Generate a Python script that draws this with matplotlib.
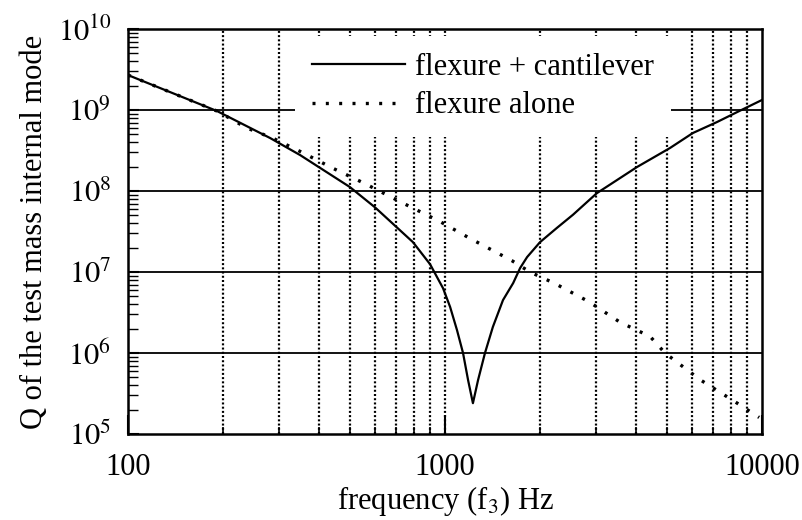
import numpy as np
import matplotlib
matplotlib.use("Agg")
import matplotlib.pyplot as plt
from matplotlib.ticker import LogLocator, FixedLocator, NullFormatter

# values (frequency in Hz, Q)
f_combined = [100, 191, 281, 349, 501, 601, 792, 897, 986, 1038, 1091, 1140,
              1183, 1225, 1271, 1337, 1416, 1524, 1641, 1726, 1816, 1995,
              2254, 2535, 3013, 4036, 5129, 6053, 7211, 8337, 10000]
q_combined = [2.7e9, 9.7e8, 4.5e8, 2.78e8, 1.12e8, 6.3e7, 2.34e7, 1.25e7,
              6.3e6, 3.7e6, 1.92e6, 1.0e6, 4.6e5, 2.4e5, 4.6e5, 1.0e6, 2.1e6,
              4.5e6, 7.3e6, 1.12e7, 1.53e7, 2.34e7, 3.5e7, 5.1e7, 9.4e7,
              1.98e8, 3.4e8, 5.2e8, 7.1e8, 9.4e8, 1.33e9]

f_flexure = [100, 191, 237, 286, 354, 444, 560, 711, 964, 1199, 1626, 1854,
             2223, 2844, 3565, 4436, 4943, 6368, 8222, 9795]
q_flexure = [2.7e9, 9.7e8, 6.0e8, 4.5e8, 3.0e8, 1.9e8, 1.23e8, 7.6e7, 4.2e7,
             2.6e7, 1.38e7, 1.0e7, 7.2e6, 4.3e6, 2.4e6, 1.6e6, 1.0e6, 4.7e5,
             2.5e5, 1.6e5]

labels = ["flexure + cantilever", "flexure alone"]
x_ticks = [100, 1000, 10000]
y_ticks = [1e5, 1e6, 1e7, 1e8, 1e9, 1e10]

plt.rcParams['font.family'] = ['Liberation Serif', 'DejaVu Serif']
plt.rcParams['mathtext.fontset'] = 'stix'

fig = plt.figure(figsize=(8.02, 5.2), dpi=100)
ax = fig.add_axes([0.1596, 0.1654, 0.7905, 0.7788])

ax.set_xscale('log')
ax.set_yscale('log')
ax.set_xlim(100, 10000)
ax.set_ylim(1e5, 1e10)

# grid: dotted verticals at the minor decades, solid horizontals at decades
vgrid = [m * d for d in (100, 1000) for m in range(2, 10)] + [1000]
for xv in vgrid:
    ax.axvline(xv, color='black', lw=1.6, ls=(0, (0.9, 1.0)), zorder=1)
for yv in y_ticks[1:-1]:
    ax.axhline(yv, color='black', lw=1.3, zorder=1)

ax.plot(f_combined, q_combined, color='black', lw=1.6, label=labels[0], zorder=3)
ax.plot(f_flexure, q_flexure, color='black', lw=2.4, ls=(0, (0.9, 3.1)),
        label=labels[1], zorder=2)

ax.xaxis.set_major_locator(FixedLocator(x_ticks))
ax.set_xticklabels([str(v) for v in x_ticks])
ax.xaxis.set_minor_locator(LogLocator(base=10, subs=np.arange(2, 10)))
ax.xaxis.set_minor_formatter(NullFormatter())
ax.yaxis.set_major_locator(FixedLocator(y_ticks))
ax.set_yticklabels([r'$10^{%d}$' % int(np.log10(v)) for v in y_ticks])
ax.yaxis.set_minor_locator(LogLocator(base=10, subs=np.arange(2, 10)))
ax.yaxis.set_minor_formatter(NullFormatter())

ax.tick_params(axis='x', which='major', direction='in', length=14, width=1.5,
               labelsize=22, pad=14, top=False)
ax.tick_params(axis='x', which='minor', direction='in', length=5, width=1.2, top=False)
ax.tick_params(axis='y', which='major', direction='in', length=8, width=1.5,
               labelsize=22, pad=12, right=False)
ax.tick_params(axis='y', which='minor', direction='in', length=7, width=1.0, right=False)

for s in ax.spines.values():
    s.set_linewidth(1.8)

ax.set_xlabel(r'frequency (f$_3$) Hz', fontsize=22, labelpad=1)
ax.set_ylabel('Q of the test mass internal mode', fontsize=22, labelpad=6)

leg = ax.legend(loc='upper left', bbox_to_anchor=(0.263, 0.982), fontsize=22,
                frameon=True, fancybox=False, edgecolor='none', facecolor='white',
                framealpha=1, handlelength=3.05, handletextpad=0.33,
                labelspacing=0.3, borderpad=0.55, borderaxespad=0)
leg.set_zorder(5)

plt.savefig('out.png', dpi=100)
